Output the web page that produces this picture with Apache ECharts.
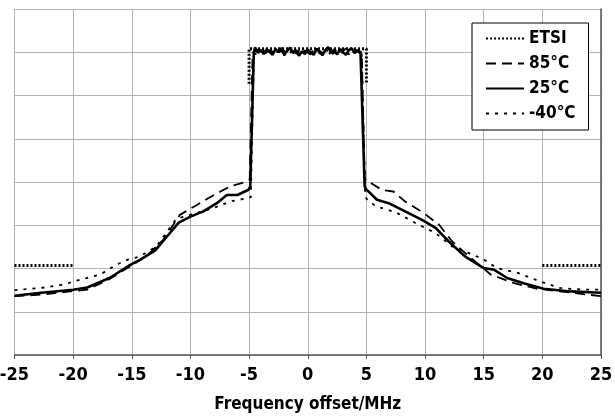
<!DOCTYPE html>
<html>
<head>
<meta charset="utf-8">
<script src="https://cdn.jsdelivr.net/npm/echarts@6/dist/echarts.min.js"></script>
<style>
	html, body { margin: 0; padding: 0; background: #fff; }
	#chart { width: 615px; height: 420px; }
</style>
</head>
<body>
<div id="chart"></div>
<script>
var FONT = "'Liberation Sans Narrow', 'DejaVu Sans Condensed', sans-serif"

// x ticks of the frequency axis (MHz)
var xTicks = [-25, -20, -15, -10, -5, 0, 5, 10, 15, 20, 25]

// ETSI mask, drawn in three pieces
var etsiBand = [[-5, -17.3], [-5, -9.2], [5, -9.2], [5, -17.3]]
var etsiLeft = [[-25, -59.3], [-20, -59.3]]
var etsiRight = [[20, -59.3], [25, -59.3]]

// measured spectra, [offset MHz, level dB]
var temp85 = [
	[-25, -66.4], [-22.5, -66.0], [-20, -65.2], [-18.8, -64.9], [-17, -62.6], [-15.2, -59.6],
	[-14.6, -58.6], [-13.5, -56.5], [-12.3, -53.3], [-10.9, -47.6], [-9.45, -45.3], [-8, -43.0],
	[-6.6, -41.0], [-5.2, -39.9], [-4.95, -39.5], [-4.7, -10.1],
	[-4.25, -9.4], [-3.75, -10.6], [-3.25, -9.5], [-2.75, -10.3], [-2.25, -9.0], [-1.75, -10.4],
	[-1.25, -9.7], [-0.75, -10.7], [-0.25, -9.6], [0.25, -10.5], [0.75, -9.2], [1.25, -10.1],
	[1.75, -10.6], [2.25, -9.3], [2.75, -10.4], [3.25, -9.1], [3.75, -10.3], [4.25, -9.5],
	[4.6, -10.0], [4.85, -39.0], [4.95, -39.5], [6.3, -41.8], [7.3, -42.2], [8.3, -44.5],
	[9.9, -47.2], [11.2, -49.9], [12.3, -53.7], [13.4, -56.4], [14.6, -59.1], [15.6, -61.4],
	[17.6, -63.4], [19.6, -64.7], [22.5, -65.6], [25, -66.4]
]
var temp25 = [
	[-25, -66.3], [-22.7, -65.6], [-20, -64.9], [-18.8, -64.4], [-16.9, -62.2], [-15.1, -59.1],
	[-14.3, -58.0], [-13, -55.8], [-12, -52.6], [-11, -49.4], [-10, -48.0], [-8.9, -46.8],
	[-7.75, -44.9], [-6.9, -43.0], [-6, -43.0], [-5.05, -41.8], [-4.9, -41.0], [-4.6, -10.2],
	[-4.5, -8.9], [-4.25, -10.1], [-4, -9.5], [-3.75, -10.4], [-3.5, -9.3], [-3.25, -9.9],
	[-3, -10.6], [-2.75, -9.2], [-2.5, -10.0], [-2.25, -9.5], [-2, -10.5], [-1.75, -9.7],
	[-1.5, -8.9], [-1.25, -10.2], [-1, -9.5], [-0.75, -10.8], [-0.5, -9.8], [-0.25, -10.4],
	[0, -9.4], [0.25, -10.0], [0.5, -10.6], [0.75, -9.2], [1, -9.9], [1.25, -10.7],
	[1.5, -9.5], [1.75, -8.8], [2, -10.2], [2.25, -9.6], [2.5, -10.5], [2.75, -9.3],
	[3, -10.0], [3.25, -10.6], [3.5, -9.5], [3.75, -9.1], [4, -10.2], [4.25, -9.6],
	[4.5, -10.3], [4.85, -41.0], [4.95, -41.6], [5.9, -44.1], [6.9, -44.9], [8.3, -46.8],
	[9.7, -48.7], [10.9, -50.6], [12, -53.7], [13.4, -57.2], [15, -59.9], [15.9, -60.3],
	[17, -62.2], [18.4, -63.4], [20.1, -64.7], [22.4, -65.3], [25, -65.6]
]
var tempM40 = [
	[-25, -65.0], [-22.7, -64.5], [-20.8, -63.7], [-19.7, -62.8], [-17.7, -61.4], [-16.3, -59.1],
	[-15.3, -57.9], [-14.3, -57.2], [-12.9, -54.9], [-11.2, -48.5], [-9.5, -47.2], [-8, -46.0],
	[-6.6, -44.5], [-5.05, -43.7], [-4.85, -43.5], [-4.6, -10.5],
	[-4, -10.2], [-3.5, -9.2], [-3, -10.4], [-2.5, -9.6], [-2, -10.7], [-1.5, -9.4],
	[-1, -10.3], [-0.5, -9.1], [0, -10.5], [0.5, -9.6], [1, -10.3], [1.5, -9.2],
	[2, -10.6], [2.5, -9.7], [3, -9.3], [3.5, -10.5], [4, -9.3],
	[4.6, -10.4], [4.9, -43.5], [5.1, -44.1], [5.8, -45.6], [7.5, -47.0], [9.2, -49.5],
	[10, -50.6], [10.9, -51.8], [12.3, -54.9], [13.7, -56.4], [15, -57.9], [16.1, -59.9],
	[17.9, -61.0], [19.8, -63.0], [21.5, -64.5], [23.5, -64.9], [25, -64.9]
]

var chart = echarts.init(document.getElementById('chart'))

function etsi(data) {
	return {
		name: 'ETSI', type: 'line', data: data, symbol: 'none', z: 3,
		lineStyle: { color: '#000', width: 3, type: [2, 2] },
		itemStyle: { color: '#000' }
	}
}

var option = {
	animation: false,
	backgroundColor: '#fff',
	grid: { left: 14.5, right: 14, top: 9, bottom: 65, outerBoundsMode: 'none', containLabel: false },
	legend: {
		orient: 'vertical', left: 472, top: 23,
		data: ['ETSI', '85°C', '25°C', '-40°C'],
		selectedMode: false,
		backgroundColor: '#fff', borderColor: '#000', borderWidth: 1,
		padding: [7, 13, 8, 13],
		itemWidth: 38, itemHeight: 16, itemGap: 8,
		// hide the marker circle, keep only the line sample
		itemStyle: { color: 'transparent', borderColor: 'transparent', borderWidth: 0 },
		textStyle: { fontFamily: FONT, fontWeight: 'bold', fontSize: 17, color: '#000' }
	},
	xAxis: {
		type: 'value', min: -25, max: 25, interval: 5,
		name: 'Frequency offset/MHz', nameLocation: 'middle', nameGap: 41,
		nameTextStyle: { fontFamily: FONT, fontWeight: 'bold', fontSize: 17, color: '#000' },
		axisLine: { show: true, onZero: false, lineStyle: { color: '#555', width: 1.5 } },
		axisTick: { show: true, length: 4, lineStyle: { color: '#555' } },
		axisLabel: {
			margin: 11, fontFamily: FONT, fontWeight: 'bold', fontSize: 18, color: '#000',
			formatter: function(v) { return xTicks.indexOf(v) >= 0 ? String(v) : '' }
		},
		splitLine: { show: true, lineStyle: { color: '#b4b4b4', width: 1 } }
	},
	yAxis: [{
		type: 'value', min: -80, max: 0, interval: 10,
		axisLine: { show: false }, axisTick: { show: false }, axisLabel: { show: false },
		splitLine: { show: true, lineStyle: { color: '#b4b4b4', width: 1 } }
	}, {
		type: 'value', min: -80, max: 0, interval: 10, position: 'right',
		axisLine: { show: true, lineStyle: { color: '#555', width: 1.5 } },
		axisTick: { show: false }, axisLabel: { show: false }, splitLine: { show: false }
	}],
	series: [
		etsi(etsiBand), etsi(etsiLeft), etsi(etsiRight),
		{
			name: '85°C', type: 'line', data: temp85, symbol: 'none', z: 4,
			lineStyle: { color: '#000', width: 1.8, type: [10, 6] },
			itemStyle: { color: '#000' }
		},
		{
			name: '25°C', type: 'line', data: temp25, symbol: 'none', z: 5,
			lineStyle: { color: '#000', width: 2.6 },
			itemStyle: { color: '#000' }
		},
		{
			name: '-40°C', type: 'line', data: tempM40, symbol: 'none', z: 4,
			lineStyle: { color: '#000', width: 1.8, type: [3, 6] },
			itemStyle: { color: '#000' }
		}
	]
}

chart.setOption(option)
</script>
</body>
</html>
